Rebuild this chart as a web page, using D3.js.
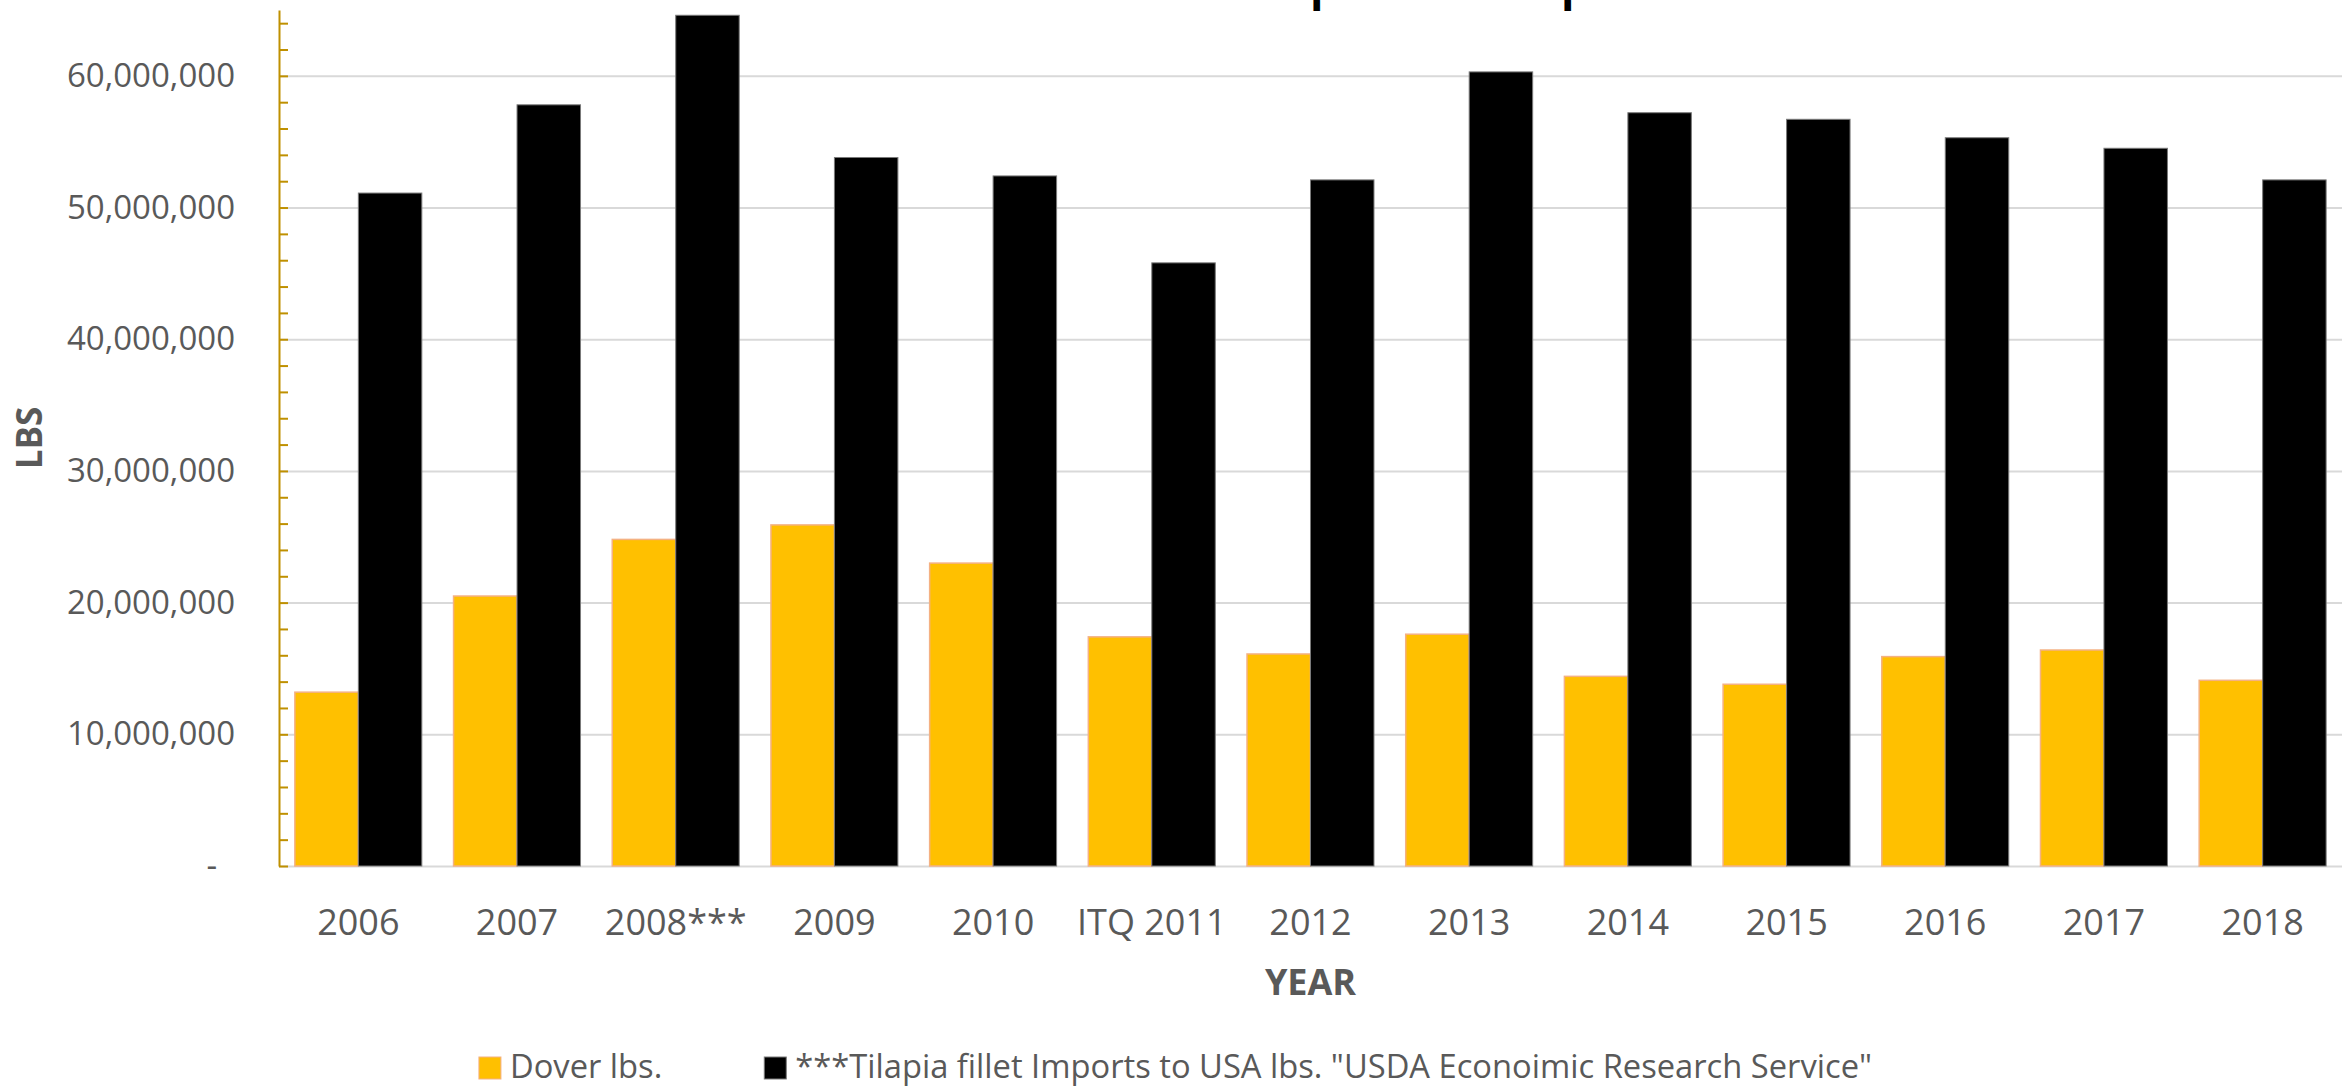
<!DOCTYPE html>
<html>
<head>
<meta charset="utf-8">
<script src="https://cdn.jsdelivr.net/npm/d3@7.9.0/dist/d3.min.js"></script>
<style>
  html, body { margin: 0; padding: 0; background: #fff; overflow: hidden; }
  svg { display: block; font-family: "Open Sans", "Noto Sans", sans-serif; }
</style>
</head>
<body>
<svg id="chart" width="2351" height="1087"></svg>
<script>
const years = ['2006', '2007', '2008***', '2009', '2010', 'ITQ 2011', '2012', '2013', '2014', '2015', '2016', '2017', '2018'];
const seriesNames = ['Dover lbs.', '***Tilapia fillet Imports to USA lbs. "USDA Econoimic Research Service"'];
const doverLbs = [13200000, 20500000, 24800000, 25900000, 23000000, 17400000, 16100000, 17600000, 14400000, 13800000, 15900000, 16400000, 14100000];
const tilapiaLbs = [51100000, 57800000, 64600000, 53800000, 52400000, 45800000, 52100000, 60300000, 57200000, 56700000, 55300000, 54500000, 52100000];
const majorTicks = [0, 10000000, 20000000, 30000000, 40000000, 50000000, 60000000];
const minorTicks = d3.range(0, 65000000, 2000000);
const titleText = 'Dover Sole vs. Tilapia fillet Imports';

const colors = ['#FFC000', '#000000'];
const strokes = ['#F4B183', '#7a7a7a'];

const svg = d3.select('#chart');
const plotLeft = 279, plotRight = 2342, plotTop = 10, plotBottom = 866;

const x = d3.scaleBand().domain(years).range([plotLeft, plotRight]).paddingInner(0.2).paddingOuter(0.1);
const xSub = d3.scaleBand().domain([0, 1]).range([0, x.bandwidth()]);
const y = d3.scaleLinear().domain([0, 65000000]).range([plotBottom, plotTop]);

// title: sits above the picture, only the descenders show
const title = svg.append('text')
  .attr('x', 1305)
  .attr('y', 0)
  .attr('text-anchor', 'middle')
  .attr('font-size', 44)
  .attr('font-weight', 'bold')
  .attr('fill', '#000')
  .text(titleText);
const pIdx = titleText.indexOf('p');
const pPos = title.node().getStartPositionOfChar(pIdx).x;
title.attr('x', 1305 + (1310 - pPos));

// gridlines
svg.append('g')
  .attr('transform', `translate(${plotLeft},0)`)
  .call(d3.axisLeft(y).tickValues(majorTicks).tickSize(-(plotRight - plotLeft)).tickFormat(''))
  .call((g) => g.select('.domain').remove())
  .call((g) => g.selectAll('line').attr('stroke', '#D9D9D9').attr('stroke-width', 2));

// bars
const data = years.map((yr, i) => ({ year: yr, values: [doverLbs[i], tilapiaLbs[i]] }));
const groups = svg.append('g').selectAll('g')
  .data(data)
  .join('g')
  .attr('transform', (d) => `translate(${x(d.year)},0)`);

groups.selectAll('rect')
  .data((d) => d.values.map((v, k) => ({ k, v })))
  .join('rect')
  .attr('x', (d) => xSub(d.k))
  .attr('width', xSub.bandwidth())
  .attr('y', (d) => y(d.v))
  .attr('height', (d) => y(0) - y(d.v))
  .attr('fill', (d) => colors[d.k])
  .attr('stroke', (d) => strokes[d.k])
  .attr('stroke-width', (d) => (d.k === 0 ? 1.5 : 1));

// y axis: golden line with inward ticks
svg.append('g')
  .attr('transform', `translate(${plotLeft},0)`)
  .call(d3.axisRight(y).tickValues(minorTicks).tickSize(9).tickSizeOuter(0).tickFormat(''))
  .call((g) => g.select('.domain').attr('stroke', '#BF9000').attr('stroke-width', 2))
  .call((g) => g.selectAll('.tick line').attr('stroke', '#BF9000').attr('stroke-width', 2));

// y tick labels
const yLabels = svg.append('g')
  .attr('transform', `translate(${plotLeft},0)`)
  .call(d3.axisLeft(y).tickValues(majorTicks).tickSize(0).tickPadding(44)
    .tickFormat((d) => (d === 0 ? '-' : d3.format(',')(d))));
yLabels.select('.domain').remove();
yLabels.selectAll('text')
  .attr('font-size', 33)
  .attr('font-family', '"Open Sans", sans-serif')
  .attr('fill', '#595959')
  .filter((d) => d === 0)
  .attr('x', -62);

// x tick labels
svg.append('g')
  .selectAll('text')
  .data(years)
  .join('text')
  .attr('x', (d) => x(d) + x.bandwidth() / 2)
  .attr('y', 935)
  .attr('text-anchor', 'middle')
  .attr('font-size', 36)
  .attr('fill', '#595959')
  .text((d) => d);

// axis titles
svg.append('text')
  .attr('x', (plotLeft + plotRight) / 2)
  .attr('y', 995)
  .attr('text-anchor', 'middle')
  .attr('font-size', 36)
  .attr('font-weight', 'bold')
  .attr('fill', '#595959')
  .text('YEAR');

svg.append('text')
  .attr('transform', `translate(42,${(plotTop + plotBottom) / 2}) rotate(-90)`)
  .attr('text-anchor', 'middle')
  .attr('font-size', 35)
  .attr('font-weight', 'bold')
  .attr('fill', '#595959')
  .text('LBS');

// legend
const legend = svg.append('g');
const items = legend.selectAll('g')
  .data(seriesNames)
  .join('g');
items.append('rect')
  .attr('width', 22)
  .attr('height', 22)
  .attr('y', 1057)
  .attr('fill', (d, i) => colors[i])
  .attr('stroke', (d, i) => strokes[i])
  .attr('stroke-width', 1);
items.append('text')
  .attr('x', 31)
  .attr('y', 1078)
  .attr('font-size', 32.7)
  .attr('fill', '#595959')
  .text((d) => d);

const widths = items.nodes().map((n) => 31 + n.querySelector('text').getComputedTextLength());
const itemGap = 102;
const total = d3.sum(widths) + itemGap * (widths.length - 1);
let cursor = 2351 / 2 - total / 2;
items.attr('transform', (d, i) => {
  const t = `translate(${cursor},0)`;
  cursor += widths[i] + itemGap;
  return t;
});
</script>
</body>
</html>
